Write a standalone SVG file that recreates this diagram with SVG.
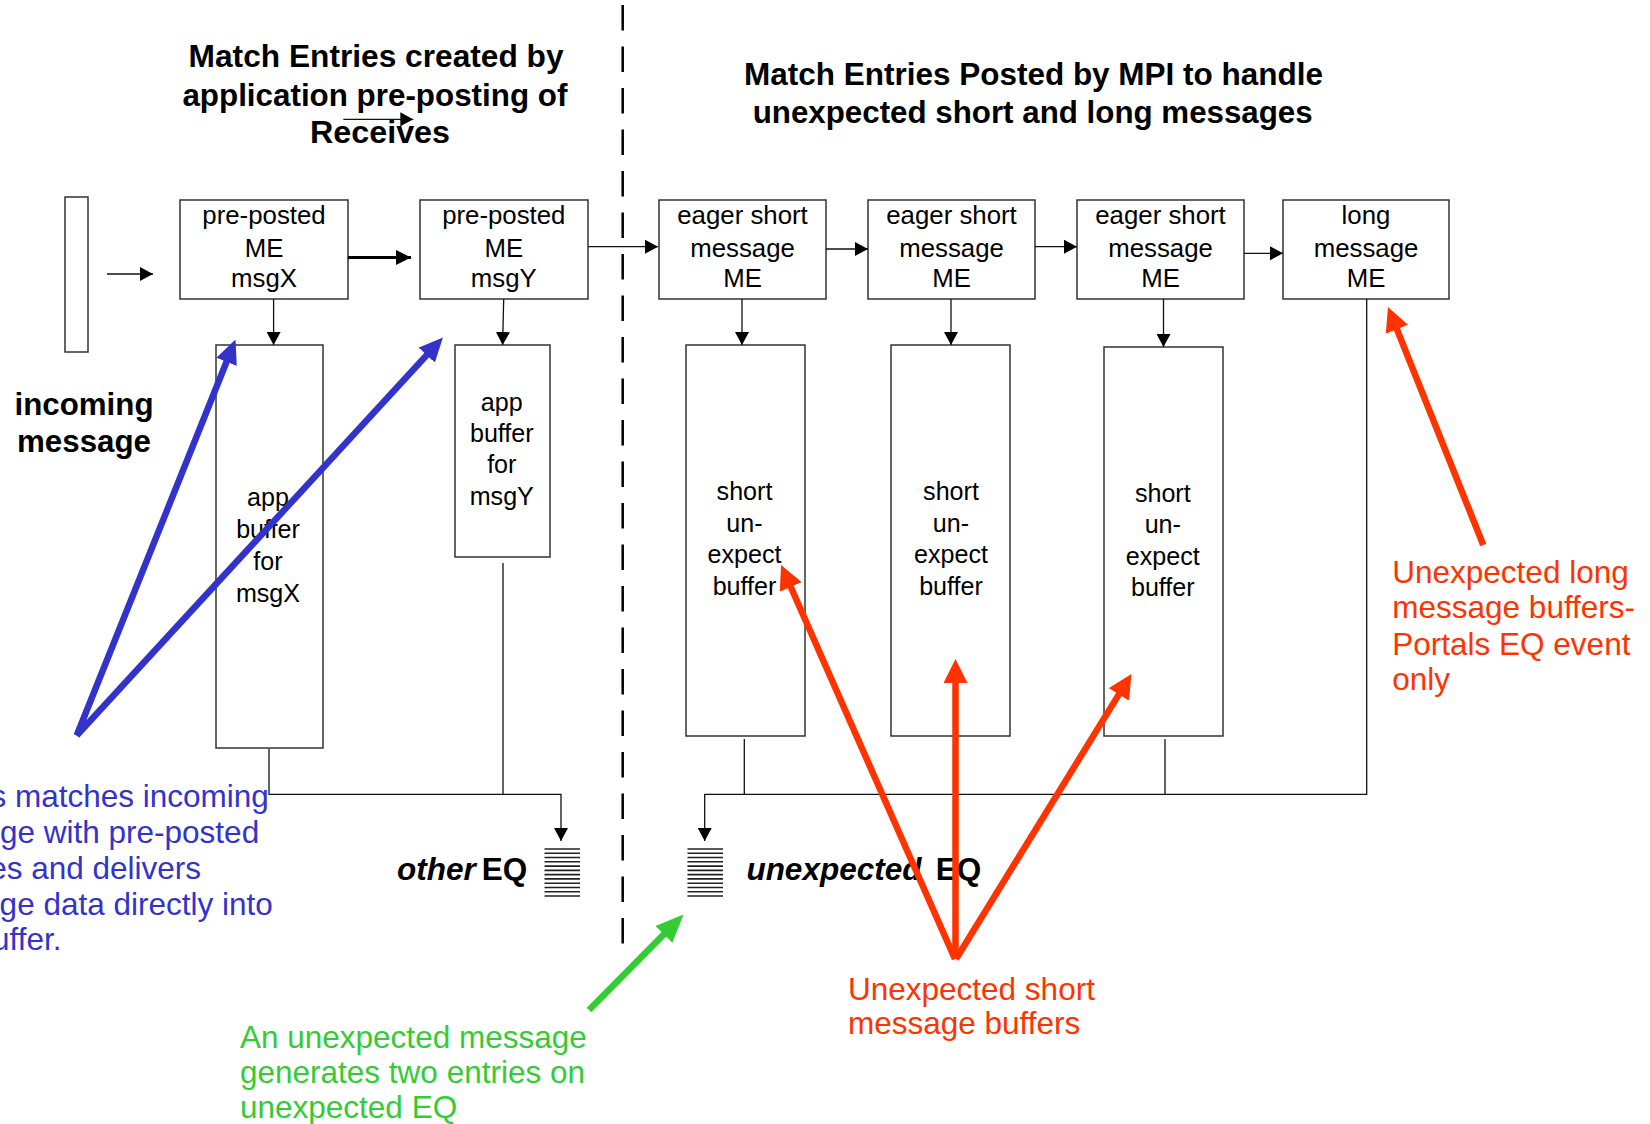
<svg xmlns="http://www.w3.org/2000/svg" width="1650" height="1124" viewBox="0 0 1650 1124">
  <style>
    .bg{fill:#fff}
    .box{fill:#fff;stroke:#333;stroke-width:1.5}
    .t{font-family:"Liberation Sans",Arial,Helvetica,sans-serif;fill:#000}
    .me{font-size:25.8px;text-anchor:middle}
    .buf{font-size:25.1px;text-anchor:middle}
    .title{font-size:31.3px;font-weight:bold}
    .mid{text-anchor:middle}
    .note{font-size:31.5px}
    .bi{font-weight:bold;font-style:italic}
    .b{font-weight:bold;font-style:normal}
    .conn{fill:none;stroke:#111;stroke-width:1.3}
    .thick{fill:none;stroke:#000;stroke-width:3}
    .eq line{stroke:#222;stroke-width:1.6}
    .fat{fill:none;stroke-width:6.5;stroke-linecap:butt}
    .blue{fill:#3333CC}
    .red{fill:#FF3300}
    .green{fill:#33CC33}
  </style>
  <defs>
    <marker id="ah" viewBox="0 0 13 14" markerWidth="13" markerHeight="14" refX="13" refY="7" orient="auto" markerUnits="userSpaceOnUse">
      <path d="M0,0L13,7L0,14Z" fill="#000"/>
    </marker>
    <marker id="ahBold" viewBox="0 0 15 15" markerWidth="15" markerHeight="15" refX="15" refY="7.5" orient="auto" markerUnits="userSpaceOnUse">
      <path d="M0,0L15,7.5L0,15Z" fill="#000"/>
    </marker>
    <marker id="headRed" viewBox="0 0 24 24" markerWidth="24" markerHeight="24" refX="10" refY="12" orient="auto" markerUnits="userSpaceOnUse">
      <path d="M0,0L24,12L0,24Z" fill="#FF3300"/>
    </marker>
    <marker id="headBlue" viewBox="0 0 24 22" markerWidth="24" markerHeight="22" refX="10" refY="11" orient="auto" markerUnits="userSpaceOnUse">
      <path d="M0,0L24,11L0,22Z" fill="#3333CC"/>
    </marker>
    <marker id="headGreen" viewBox="0 0 28 24" markerWidth="28" markerHeight="24" refX="14" refY="12" orient="auto" markerUnits="userSpaceOnUse">
      <path d="M0,0L28,12L0,24Z" fill="#33CC33"/>
    </marker>
    <g id="eqStack" class="eq">
      <line x1="0" y1="0" x2="35.5" y2="0"/>
      <line x1="0" y1="4.27" x2="35.5" y2="4.27"/>
      <line x1="0" y1="8.54" x2="35.5" y2="8.54"/>
      <line x1="0" y1="12.82" x2="35.5" y2="12.82"/>
      <line x1="0" y1="17.09" x2="35.5" y2="17.09"/>
      <line x1="0" y1="21.36" x2="35.5" y2="21.36"/>
      <line x1="0" y1="25.64" x2="35.5" y2="25.64"/>
      <line x1="0" y1="29.91" x2="35.5" y2="29.91"/>
      <line x1="0" y1="34.18" x2="35.5" y2="34.18"/>
      <line x1="0" y1="38.45" x2="35.5" y2="38.45"/>
      <line x1="0" y1="42.73" x2="35.5" y2="42.73"/>
      <line x1="0" y1="47" x2="35.5" y2="47"/>
    </g>
  </defs>

  <rect class="bg" x="0" y="0" width="1650" height="1124"/>

  <!-- divider between application and MPI match entries -->
  <line x1="622.7" y1="5" x2="622.7" y2="944" stroke="#000" stroke-width="2.5" stroke-dasharray="25.5 16"/>

  <!-- section headings -->
  <g id="heading-app" class="t title">
    <text x="188.6" y="66.7" textLength="375" lengthAdjust="spacingAndGlyphs">Match Entries created by</text>
    <text x="182.4" y="106" textLength="385" lengthAdjust="spacingAndGlyphs">application pre-posting of</text>
    <text x="310" y="143.3" textLength="140" lengthAdjust="spacingAndGlyphs">Receives</text>
  </g>
  <g id="heading-mpi" class="t title">
    <text x="744" y="85" textLength="579" lengthAdjust="spacingAndGlyphs">Match Entries Posted by MPI to handle</text>
    <text x="752.7" y="123.3" textLength="560" lengthAdjust="spacingAndGlyphs">unexpected short and long messages</text>
  </g>

  <!-- incoming message -->
  <g id="incoming">
    <rect class="box" x="65" y="197" width="23" height="155"/>
    <text class="t title mid" x="84" y="415">incoming</text>
    <text class="t title mid" x="84" y="451.7">message</text>
  </g>

  <!-- match entries -->
  <g id="me-msgX">
    <rect class="box" x="180" y="200" width="168" height="99"/>
    <text class="t me" x="264" y="224">pre-posted</text>
    <text class="t me" x="264" y="256.7">ME</text>
    <text class="t me" x="264" y="287">msgX</text>
  </g>
  <g id="me-msgY">
    <rect class="box" x="420" y="200" width="168" height="99"/>
    <text class="t me" x="503.8" y="224">pre-posted</text>
    <text class="t me" x="503.8" y="256.7">ME</text>
    <text class="t me" x="503.8" y="287">msgY</text>
  </g>
  <g id="me-eager1">
    <rect class="box" x="659" y="200" width="167" height="99"/>
    <text class="t me" x="742.5" y="224">eager short</text>
    <text class="t me" x="742.5" y="256.7">message</text>
    <text class="t me" x="742.5" y="287">ME</text>
  </g>
  <g id="me-eager2">
    <rect class="box" x="868" y="200" width="167" height="99"/>
    <text class="t me" x="951.5" y="224">eager short</text>
    <text class="t me" x="951.5" y="256.7">message</text>
    <text class="t me" x="951.5" y="287">ME</text>
  </g>
  <g id="me-eager3">
    <rect class="box" x="1077" y="200" width="167" height="99"/>
    <text class="t me" x="1160.5" y="224">eager short</text>
    <text class="t me" x="1160.5" y="256.7">message</text>
    <text class="t me" x="1160.5" y="287">ME</text>
  </g>
  <g id="me-long">
    <rect class="box" x="1283" y="200" width="166" height="99"/>
    <text class="t me" x="1366" y="224">long</text>
    <text class="t me" x="1366" y="256.7">message</text>
    <text class="t me" x="1366" y="287">ME</text>
  </g>

  <!-- buffers -->
  <g id="buf-msgX">
    <rect class="box" x="216" y="345" width="107" height="403"/>
    <text class="t buf" x="268" y="506">app</text>
    <text class="t buf" x="268" y="537.5">buffer</text>
    <text class="t buf" x="268" y="570">for</text>
    <text class="t buf" x="268" y="601.7">msgX</text>
  </g>
  <g id="buf-msgY">
    <rect class="box" x="455" y="345" width="95" height="212"/>
    <text class="t buf" x="501.8" y="410.7">app</text>
    <text class="t buf" x="501.8" y="441.7">buffer</text>
    <text class="t buf" x="501.8" y="473">for</text>
    <text class="t buf" x="501.8" y="505">msgY</text>
  </g>
  <g id="buf-short1">
    <rect class="box" x="686" y="345" width="119" height="391"/>
    <text class="t buf" x="744.5" y="500">short</text>
    <text class="t buf" x="744.5" y="531.7">un-</text>
    <text class="t buf" x="744.5" y="563.3">expect</text>
    <text class="t buf" x="744.5" y="595">buffer</text>
  </g>
  <g id="buf-short2">
    <rect class="box" x="891" y="345" width="119" height="391"/>
    <text class="t buf" x="951" y="500">short</text>
    <text class="t buf" x="951" y="531.7">un-</text>
    <text class="t buf" x="951" y="563.3">expect</text>
    <text class="t buf" x="951" y="595">buffer</text>
  </g>
  <g id="buf-short3">
    <rect class="box" x="1104" y="347" width="119" height="389"/>
    <text class="t buf" x="1162.8" y="501.5">short</text>
    <text class="t buf" x="1162.8" y="533">un-</text>
    <text class="t buf" x="1162.8" y="564.5">expect</text>
    <text class="t buf" x="1162.8" y="596">buffer</text>
  </g>

  <!-- event queues -->
  <g id="eq-other">
    <use href="#eqStack" x="544.5" y="849"/>
    <text class="t note" x="397" y="880"><tspan class="bi">other</tspan><tspan class="b" x="473"> EQ</tspan></text>
  </g>
  <g id="eq-unexpected">
    <use href="#eqStack" x="687.5" y="849"/>
    <text class="t note" x="746.4" y="880"><tspan class="bi">unexpected</tspan><tspan class="b" x="927"> EQ</tspan></text>
  </g>

  <!-- connectors -->
  <g id="connectors">
    <path class="conn" d="M107,274H153" marker-end="url(#ah)"/>
    <path class="thick" d="M348,257.5H411" marker-end="url(#ahBold)"/>
    <path class="conn" d="M588,246.7H658" marker-end="url(#ah)"/>
    <path class="conn" d="M826,249H868" marker-end="url(#ah)"/>
    <path class="conn" d="M1035,246.7H1077" marker-end="url(#ah)"/>
    <path class="conn" d="M1244,253.3H1283" marker-end="url(#ah)"/>
    <path class="conn" d="M273.6,299V345" marker-end="url(#ah)"/>
    <path class="conn" d="M503.7,299L502.6,345" marker-end="url(#ah)"/>
    <path class="conn" d="M742,299V345" marker-end="url(#ah)"/>
    <path class="conn" d="M951,299V345" marker-end="url(#ah)"/>
    <path class="conn" d="M1163.5,299V347" marker-end="url(#ah)"/>
    <path class="conn" d="M269,749V794.3H561V841" marker-end="url(#ah)"/>
    <path class="conn" d="M503,563V794.3"/>
    <path class="conn" d="M744.3,739V794.3"/>
    <path class="conn" d="M1165,739V794.3"/>
    <path class="conn" d="M1366.7,299V794.3H704.7V841" marker-end="url(#ah)"/>
    <path class="conn" d="M343.3,119.3H413.3" marker-end="url(#ah)"/>
  </g>

  <!-- annotation arrows -->
  <g id="callout-arrows">
    <path class="fat" stroke="#3333CC" d="M76.7,735.5L230.3,352.5" marker-end="url(#headBlue)"/>
    <path class="fat" stroke="#3333CC" d="M76.7,735.5L433.5,347.8" marker-end="url(#headBlue)"/>
    <path class="fat" stroke="#FF3300" d="M955,959L786.7,577.8" marker-end="url(#headRed)"/>
    <path class="fat" stroke="#FF3300" d="M955.5,959V673" marker-end="url(#headRed)"/>
    <path class="fat" stroke="#FF3300" d="M956,959L1124.1,685.9" marker-end="url(#headRed)"/>
    <path class="fat" stroke="#FF3300" d="M1483.3,545L1393.2,320" marker-end="url(#headRed)"/>
    <path class="fat" stroke="#33CC33" d="M589,1010L673.7,924.4" marker-end="url(#headGreen)"/>
  </g>

  <!-- annotation texts -->
  <g id="note-match" class="t note blue">
    <text x="-9.5" y="807.3">s matches incoming</text>
    <text x="0" y="842.7">ge with pre-posted</text>
    <text x="-10.8" y="879">es and delivers</text>
    <text x="-0.4" y="915">ge data directly into</text>
    <text x="-8" y="950">uffer.</text>
  </g>
  <g id="note-unexpected" class="t note green">
    <text x="240" y="1048.3">An unexpected message</text>
    <text x="240" y="1083.3">generates two entries on</text>
    <text x="240" y="1118.3">unexpected EQ</text>
  </g>
  <g id="note-short" class="t note red">
    <text x="848" y="1000">Unexpected short</text>
    <text x="848" y="1034.3">message buffers</text>
  </g>
  <g id="note-long" class="t note red">
    <text x="1392.3" y="583.3">Unexpected long</text>
    <text x="1392.3" y="618.3">message buffers-</text>
    <text x="1392.3" y="655">Portals EQ event</text>
    <text x="1392.3" y="690">only</text>
  </g>
</svg>
